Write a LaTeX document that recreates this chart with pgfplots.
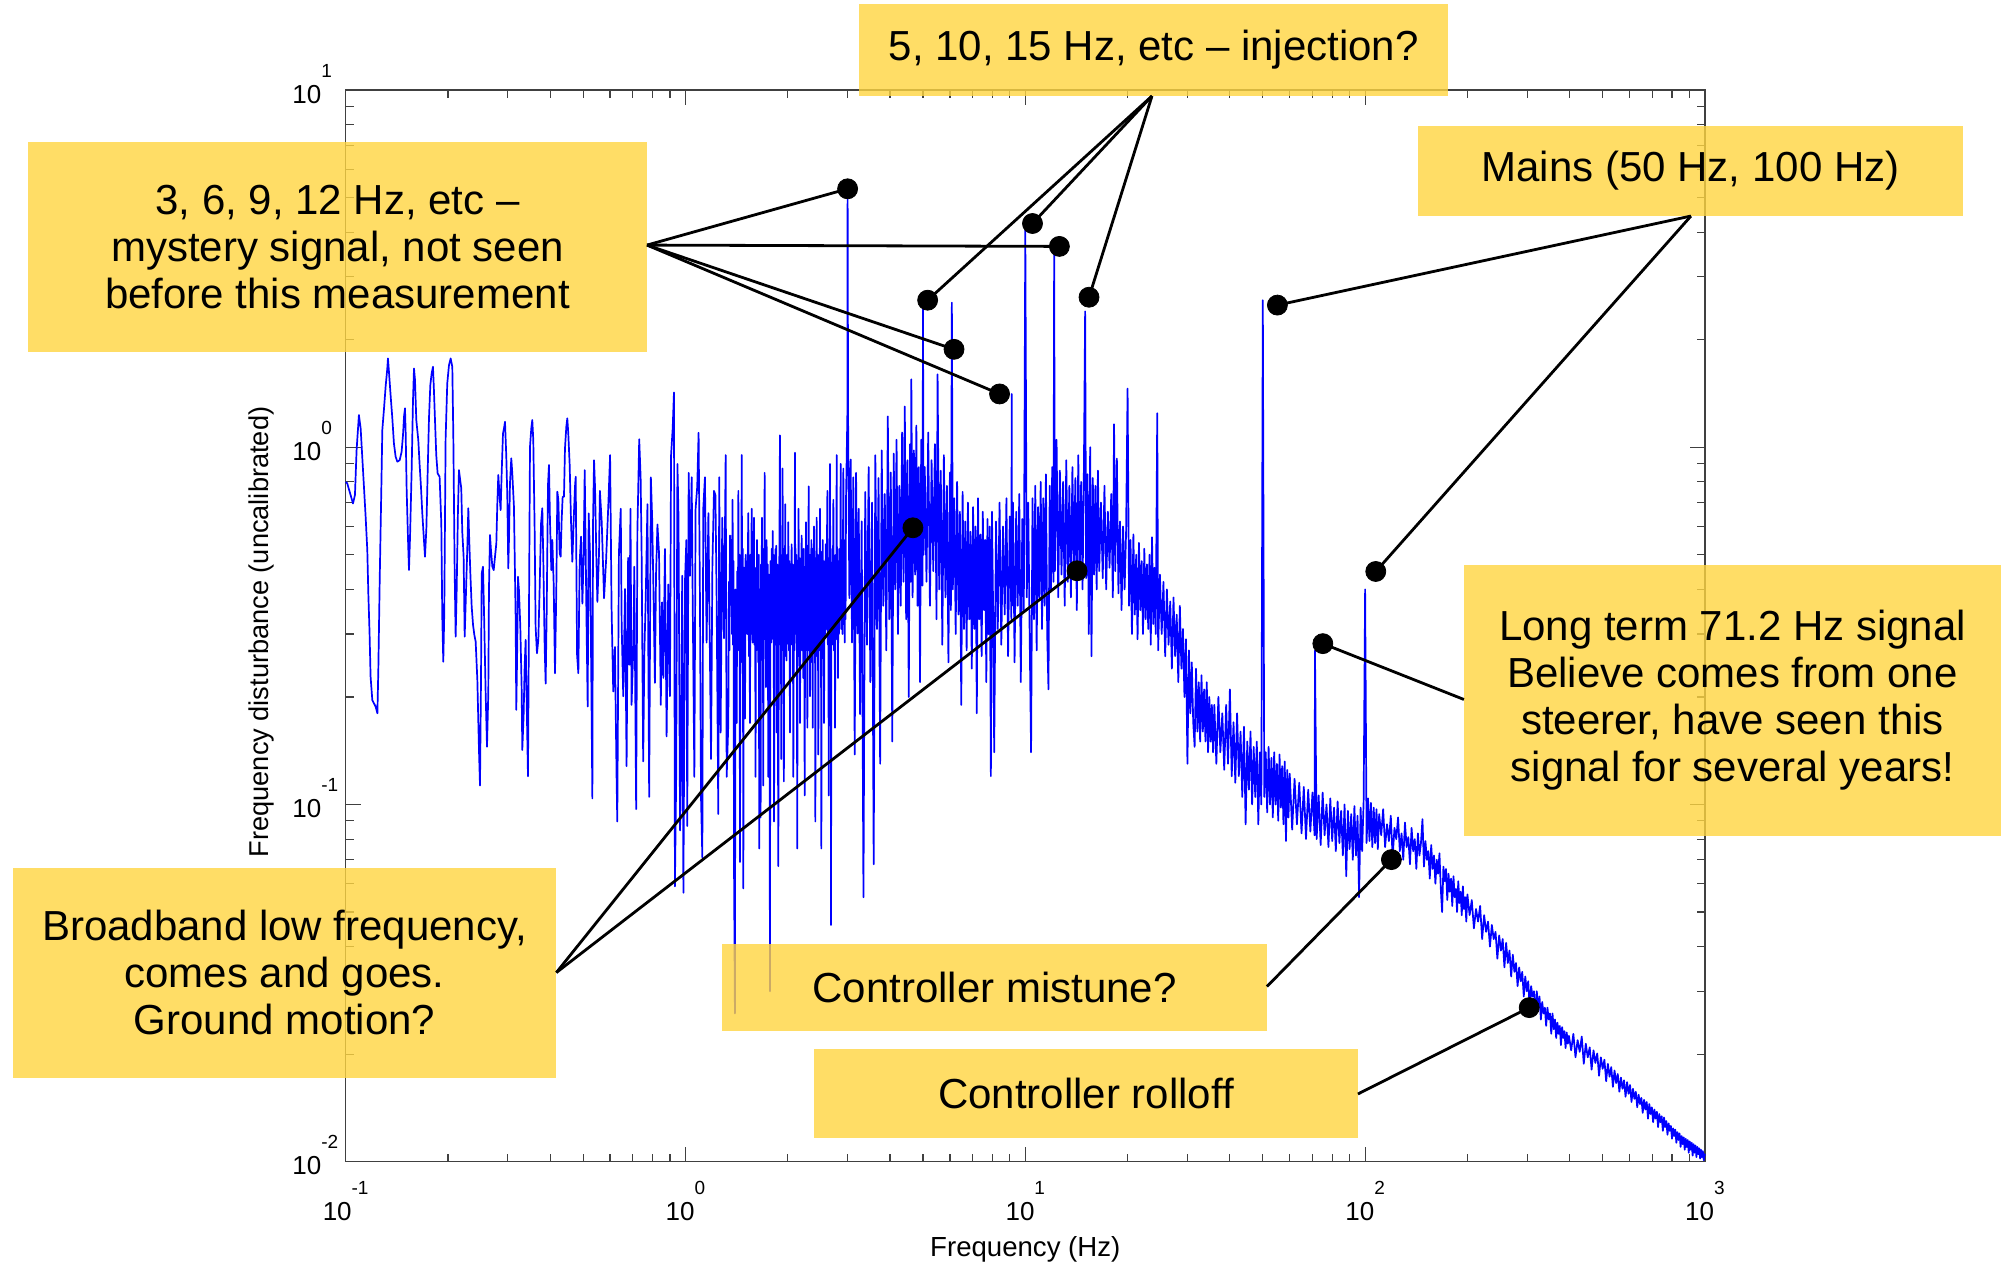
\documentclass[border=0pt]{standalone}
\usepackage{fontspec}
\setmainfont{Liberation Sans}
\usepackage{pgfplots}
\pgfplotsset{compat=1.18}
\definecolor{boxfill}{RGB}{255,213,64}
\definecolor{axgray}{RGB}{64,64,64}
\newcommand{\tklab}[1]{{\fontsize{13}{13}\selectfont 10}\raisebox{13pt}{\fontsize{9.5}{9.5}\selectfont #1}}
\newcommand{\boxfont}{\fontsize{21}{23.5}\selectfont}
\begin{document}
\begin{tikzpicture}
\begin{axis}[
  scale only axis,
  width=679.65pt, height=535.85pt,
  xmode=log, ymode=log,
  xmin=0.1, xmax=1000, ymin=0.01, ymax=10,
  axis line style={axgray, line width=0.65pt},
  every tick/.style={axgray, line width=0.6pt},
  major tick length=7.5pt, minor tick length=4pt,
  tick align=inside,
  xtick={0.1,1,10,100,1000},
  xticklabels={{\tklab{-1}},{\tklab{0}},{\tklab{1}},{\tklab{2}},{\tklab{3}}},
  ytick={0.01,0.1,1,10},
  yticklabels={{\tklab{-2}},{\tklab{-1}},{\tklab{0}},{\tklab{1}}},
  minor xtick={0.2,0.3,0.4,0.5,0.6,0.7,0.8,0.9,2,3,4,5,6,7,8,9,20,30,40,50,60,70,80,90,200,300,400,500,600,700,800,900},
  minor ytick={0.02,0.03,0.04,0.05,0.06,0.07,0.08,0.09,0.2,0.3,0.4,0.5,0.6,0.7,0.8,0.9,2,3,4,5,6,7,8,9},
  xticklabel style={anchor=base, inner sep=0pt, yshift=-29.15pt},
  yticklabel style={anchor=base west, inner sep=0pt, xshift=-26.85pt, yshift=-6.5pt},
  xlabel={Frequency (Hz)},
  ylabel={Frequency disturbance (uncalibrated)},
  xlabel style={at={(rel axis cs:0.5,-0.0889)}, anchor=base, inner sep=0pt, font=\fontsize{13.8}{13.8}\selectfont},
  ylabel style={at={(rel axis cs:-0.05643,0.4943)}, anchor=base, inner sep=0pt, font=\fontsize{13.6}{13.6}\selectfont},
  clip=false,
]
\addplot[blue, line width=0.85pt, line join=round, mark=none] table {
x y
0.1000 0.800
0.1011 0.792
0.1034 0.735
0.1051 0.696
0.1065 0.735
0.1077 0.982
0.1094 1.231
0.1107 1.129
0.1119 0.941
0.1132 0.775
0.1145 0.639
0.1158 0.515
0.1166 0.390
0.1176 0.301
0.1184 0.228
0.1198 0.196
0.1225 0.188
0.1240 0.180
0.1248 0.240
0.1260 0.434
0.1274 0.784
0.1282 1.117
0.1297 1.285
0.1311 1.477
0.1326 1.662
0.1332 1.773
0.1341 1.627
0.1356 1.400
0.1372 1.205
0.1387 1.025
0.1403 0.941
0.1419 0.911
0.1442 0.920
0.1461 0.971
0.1475 1.081
0.1485 1.218
0.1495 1.285
0.1502 1.093
0.1512 0.759
0.1526 0.550
0.1536 0.453
0.1547 0.562
0.1564 0.863
0.1578 1.341
0.1589 1.662
0.1600 1.542
0.1614 1.192
0.1636 1.047
0.1651 0.892
0.1666 0.775
0.1681 0.653
0.1700 0.550
0.1712 0.494
0.1728 0.592
0.1743 0.845
0.1759 1.205
0.1775 1.493
0.1791 1.610
0.1807 1.680
0.1819 1.446
0.1832 1.192
0.1848 0.950
0.1865 0.845
0.1890 0.827
0.1912 0.612
0.1925 0.335
0.1938 0.251
0.1951 0.343
0.1969 1.058
0.1991 1.509
0.2014 1.698
0.2037 1.773
0.2060 1.680
0.2074 1.081
0.2093 0.453
0.2107 0.295
0.2121 0.390
0.2140 0.660
0.2155 0.863
0.2170 0.818
0.2189 0.767
0.2204 0.580
0.2224 0.494
0.2240 0.295
0.2255 0.365
0.2281 0.527
0.2296 0.675
0.2307 0.574
0.2328 0.443
0.2349 0.358
0.2371 0.318
0.2392 0.298
0.2413 0.286
0.2441 0.223
0.2468 0.142
0.2485 0.113
0.2502 0.223
0.2514 0.443
0.2536 0.463
0.2553 0.350
0.2582 0.205
0.2606 0.145
0.2629 0.205
0.2641 0.402
0.2659 0.568
0.2677 0.515
0.2702 0.463
0.2727 0.453
0.2751 0.494
0.2776 0.538
0.2794 0.689
0.2813 0.836
0.2839 0.727
0.2858 0.667
0.2878 0.845
0.2904 1.093
0.2924 1.129
0.2944 1.178
0.2970 0.941
0.2990 0.735
0.3010 0.458
0.3024 0.550
0.3045 0.792
0.3072 0.931
0.3093 0.845
0.3128 0.682
0.3164 0.335
0.3178 0.184
0.3200 0.283
0.3214 0.434
0.3236 0.398
0.3266 0.314
0.3295 0.2135
0.3310 0.142
0.3340 0.178
0.3363 0.243
0.3386 0.289
0.3409 0.196
0.3440 0.120
0.3463 0.335
0.3487 1.003
0.3518 1.129
0.3542 1.192
0.3566 1.047
0.3598 0.599
0.3623 0.314
0.3656 0.265
0.3690 0.289
0.3724 0.407
0.3758 0.612
0.3791 0.675
0.3817 0.483
0.3852 0.276
0.3878 0.218
0.3905 0.346
0.3940 0.784
0.3966 0.892
0.3994 0.619
0.4029 0.453
0.4057 0.550
0.4094 0.415
0.4131 0.233
0.4169 0.407
0.4197 0.751
0.4226 0.712
0.4264 0.505
0.4293 0.494
0.4322 0.626
0.4351 0.727
0.4390 0.727
0.4420 0.992
0.4460 1.141
0.4490 1.205
0.4520 1.093
0.4563 0.892
0.4605 0.619
0.4646 0.478
0.4687 0.619
0.4730 0.775
0.4753 0.827
0.4798 0.262
0.4839 0.233
0.4883 0.478
0.4928 0.562
0.4973 0.365
0.5018 0.505
0.5052 0.863
0.5086 0.505
0.5120 0.301
0.5155 0.188
0.5190 0.653
0.5236 0.505
0.5283 0.228
0.5321 0.104
0.5345 0.612
0.5382 0.920
0.5418 0.775
0.5467 0.494
0.5505 0.369
0.5567 0.505
0.560 0.755
0.567 0.617
0.576 0.378
0.584 0.483
0.593 0.693
0.600 0.951
0.606 0.357
0.613 0.207
0.620 0.276
0.627 0.1195
0.630 0.0896
0.637 0.505
0.645 0.673
0.649 0.318
0.656 0.201
0.664 0.401
0.671 0.128
0.678 0.490
0.683 0.246
0.689 0.673
0.694 0.190
0.703 0.284
0.707 0.463
0.716 0.097
0.722 0.583
0.731 1.053
0.738 0.824
0.743 0.505
0.751 0.132
0.757 0.268
0.764 0.378
0.773 0.693
0.782 0.105
0.791 0.824
0.798 0.635
0.804 0.425
0.813 0.219
0.819 0.437
0.827 0.608
0.836 0.505
0.846 0.190
0.853 0.368
0.861 0.226
0.870 0.519
0.880 0.155
0.890 0.413
0.900 0.201
0.907 0.951
0.917 1.130
0.925 1.424
0.931 0.059
0.939 0.1195
0.947 0.898
0.954 0.635
0.964 0.0846
0.970 0.1195
0.978 0.437
0.986 0.0566
0.997 0.425
1.006 0.550
1.012 0.087
1.022 0.848
1.031 0.437
1.043 0.824
1.050 0.378
1.062 0.1195
1.071 0.673
1.083 0.777
1.093 1.098
1.103 0.378
1.111 0.105
1.121 0.0711
1.128 0.673
1.141 0.824
1.154 0.284
1.168 0.654
1.181 0.246
1.189 0.134
1.200 0.463
1.213 0.755
1.225 0.734
1.235 0.378
1.249 0.094
1.257 0.824
1.269 0.159
1.283 0.635
1.298 0.292
1.313 0.951
1.322 0.1195
1.337 0.169
1.342 0.42
1.347 0.27
1.352 0.566
1.367 0.450
1.370 0.30
1.373 0.52
1.376 0.713
1.380 0.28
1.385 0.48
1.389 0.0711
1.398 0.026
1.404 0.40
1.409 0.26
1.415 0.169
1.420 0.45
1.426 0.29
1.431 0.755
1.436 0.27
1.442 0.50
1.447 0.069
1.453 0.45
1.458 0.25
1.464 0.951
1.469 0.30
1.475 0.52
1.480 0.0582
1.486 0.46
1.491 0.27
1.497 0.174
1.503 0.50
1.508 0.31
1.514 0.425
1.520 0.30
1.525 0.48
1.531 0.654
1.537 0.26
1.542 0.47
1.548 0.169
1.554 0.50
1.560 0.30
1.566 0.673
1.569 0.33
1.572 0.52
1.576 0.284
1.581 0.49
1.585 0.32
1.590 0.635
1.596 0.28
1.602 0.46
1.608 0.1195
1.612 0.45
1.616 0.27
1.620 0.328
1.624 0.55
1.627 0.30
1.631 0.463
1.637 0.25
1.643 0.50
1.649 0.0753
1.654 0.40
1.659 0.26
1.664 0.092
1.669 0.47
1.674 0.28
1.679 0.635
1.684 0.27
1.689 0.49
1.694 0.113
1.699 0.52
1.705 0.30
1.710 0.848
1.715 0.29
1.720 0.50
1.725 0.213
1.728 0.45
1.730 0.28
1.733 0.550
1.740 0.25
1.746 0.47
1.753 0.1195
1.760 0.44
1.766 0.26
1.773 0.030
1.778 0.48
1.784 0.30
1.789 0.284
1.795 0.52
1.800 0.33
1.806 0.583
1.812 0.29
1.817 0.50
1.823 0.0896
1.828 0.48
1.834 0.28
1.839 0.519
1.844 0.30
1.850 0.53
1.855 0.159
1.862 0.47
1.869 0.26
1.876 0.0672
1.883 0.35
1.890 0.52
1.897 1.080
1.903 0.28
1.908 0.50
1.914 0.134
1.920 0.47
1.925 0.27
1.931 0.872
1.937 0.30
1.942 0.52
1.948 0.116
1.954 0.46
1.960 0.28
1.966 0.693
1.972 0.26
1.978 0.49
1.984 0.253
1.992 0.50
1.999 0.31
2.007 0.617
2.015 0.27
2.022 0.48
2.030 0.159
2.038 0.45
2.045 0.29
2.053 0.535
2.061 0.28
2.069 0.47
2.077 0.1195
2.085 0.42
2.092 0.27
2.100 0.965
2.105 0.30
2.109 0.52
2.114 0.337
2.120 0.50
2.127 0.28
2.133 0.0753
2.139 0.44
2.146 0.27
2.152 0.673
2.159 0.26
2.166 0.49
2.173 0.169
2.181 0.48
2.189 0.29
2.197 0.566
2.205 0.27
2.214 0.50
2.222 0.226
2.229 0.52
2.236 0.30
2.243 0.106
2.250 0.44
2.256 0.27
2.263 0.617
2.270 0.30
2.277 0.53
2.284 0.164
2.291 0.47
2.297 0.29
2.304 0.777
2.311 0.27
2.318 0.50
2.325 0.201
2.332 0.50
2.340 0.29
2.347 0.550
2.354 0.25
2.361 0.46
2.368 0.164
2.375 0.52
2.383 0.30
2.390 0.600
2.397 0.27
2.404 0.49
2.411 0.0896
2.418 0.44
2.425 0.26
2.432 0.635
2.441 0.28
2.451 0.50
2.460 0.138
2.469 0.47
2.479 0.27
2.488 0.673
2.496 0.29
2.503 0.51
2.511 0.0753
2.519 0.44
2.526 0.28
2.534 0.550
2.542 0.27
2.549 0.48
2.557 0.169
2.567 0.47
2.576 0.30
2.586 0.535
2.596 0.31
2.606 0.50
2.616 0.755
2.624 0.28
2.632 0.49
2.640 0.106
2.648 0.46
2.655 0.27
2.663 0.898
2.669 0.30
2.675 0.52
2.681 0.046
2.689 0.42
2.697 0.28
2.705 0.476
2.711 0.30
2.718 0.50
2.724 0.713
2.734 0.27
2.745 0.48
2.755 0.164
2.765 0.50
2.776 0.30
2.786 0.951
2.794 0.29
2.803 0.52
2.811 0.226
2.820 0.48
2.828 0.30
2.837 0.378
2.845 0.52
2.854 0.33
2.862 0.898
2.871 0.31
2.879 0.55
2.888 0.425
2.897 0.30
2.906 0.50
2.915 0.872
2.924 0.32
2.932 0.55
2.941 0.284
2.950 0.52
2.959 0.33
2.968 0.713
2.995 1.230
3.000 5.200
3.010 1.197
3.036 0.378
3.063 0.924
3.091 0.284
3.119 0.824
3.148 0.138
3.177 0.848
3.206 0.301
3.235 0.673
3.264 0.179
3.30 0.62
3.34 0.055
3.38 0.75
3.42 0.28
3.46 0.88
3.50 0.22
3.54 0.70
3.58 0.068
3.62 0.95
3.66 0.31
3.70 0.82
3.74 0.13
3.78 0.98
3.82 0.36
3.86 0.74
3.90 0.27
3.94 1.22
3.98 0.33
4.02 0.85
4.06 0.15
4.10 0.96
4.14 0.40
4.18 1.05
4.22 0.30
4.26 0.78
4.30 0.36
4.34 1.10
4.38 0.42
4.42 1.30
4.46 0.33
4.50 0.92
4.54 0.20
4.58 1.02
4.60 0.42
4.62 1.55
4.66 0.38
4.70 0.98
4.74 0.44
4.78 1.15
4.82 0.36
4.86 0.88
4.90 0.22
4.94 1.05
4.98 0.41
5.00 2.45
5.02 0.50
5.06 0.88
5.12 0.42
5.18 1.10
5.24 0.36
5.30 0.92
5.36 0.45
5.42 1.02
5.48 0.33
5.52 1.60
5.58 0.40
5.64 0.86
5.70 0.28
5.76 0.95
5.82 0.38
5.88 0.78
5.94 0.25
6.00 0.85
6.04 0.35
6.08 2.54
6.12 0.40
6.18 0.72
6.24 0.30
6.30 0.80
6.36 0.34
6.42 0.66
6.48 0.19
6.54 0.75
6.60 0.31
6.66 0.62
6.72 0.27
6.78 0.70
6.84 0.33
6.90 0.58
6.96 0.24
7.02 0.68
7.08 0.31
7.14 0.60
7.20 0.18
7.26 0.72
7.32 0.33
7.38 0.57
7.44 0.26
7.50 0.66
7.56 0.35
7.62 0.55
7.68 0.22
7.74 0.63
7.80 0.30
7.86 0.60
7.92 0.12
7.98 0.66
8.05 0.32
8.10 0.14
8.20 0.62
8.30 0.31
8.40 0.70
8.50 0.28
8.60 0.60
8.70 0.34
8.80 0.72
8.90 0.26
9.00 0.64
9.10 0.33
9.12 1.41
9.14 0.36
9.20 0.70
9.30 0.25
9.40 0.66
9.50 0.36
9.60 0.74
9.70 0.22
9.80 0.63
9.90 0.35
10.00 4.05
10.10 0.38
10.20 0.70
10.30 0.30
10.40 0.14
10.50 0.72
10.60 0.33
10.70 0.78
10.80 0.27
10.90 0.68
11.00 0.38
11.10 0.80
11.20 0.31
11.30 0.72
11.40 0.36
11.50 0.84
11.60 0.30
11.70 0.21
11.80 0.78
11.90 0.40
12.00 0.88
12.10 0.42
12.16 3.50
12.22 0.45
12.36 1.05
12.50 0.38
12.64 0.86
12.78 0.44
12.92 0.80
13.06 0.36
13.20 0.92
13.34 0.42
13.48 0.78
13.62 0.38
13.76 0.88
13.90 0.45
14.04 0.82
14.18 0.35
14.32 0.95
14.46 0.44
14.60 0.80
14.74 0.40
14.88 0.90
15.00 2.40
15.10 0.43
15.24 0.84
15.38 0.30
15.52 1.00
15.66 0.26
15.80 0.82
15.94 0.44
16.08 0.78
16.22 0.40
16.36 0.86
16.50 0.45
16.70 0.70
16.90 0.43
17.10 0.78
17.30 0.40
17.50 0.66
17.70 0.46
17.90 0.74
18.10 0.38
18.25 1.16
18.40 0.45
18.60 0.93
18.80 0.39
19.00 0.62
19.20 0.35
19.40 0.60
19.60 0.40
19.80 0.58
20.00 1.46
20.20 0.36
20.40 0.55
20.60 0.30
20.80 0.57
21.00 0.34
21.20 0.50
21.40 0.29
21.60 0.54
21.80 0.35
22.00 0.48
22.20 0.30
22.40 0.52
22.60 0.33
22.80 0.47
23.00 0.31
23.20 0.50
23.40 0.28
23.60 0.56
23.80 0.32
24.00 0.46
24.20 0.30
24.45 1.245
24.60 0.27
24.90 0.44
25.20 0.30
25.50 0.42
25.80 0.26
26.10 0.40
26.40 0.28
26.70 0.37
27.00 0.24
27.30 0.38
27.60 0.26
27.90 0.34
28.20 0.22
28.50 0.36
28.80 0.24
29.10 0.31
29.40 0.20
29.70 0.29
30.00 0.13
30.30 0.27
30.60 0.18
30.90 0.25
31.20 0.17
31.50 0.145
31.80 0.24
32.10 0.16
32.40 0.22
32.70 0.15
33.00 0.23
33.30 0.16
33.60 0.21
33.90 0.15
34.20 0.22
34.50 0.14
34.80 0.20
35.10 0.15
35.40 0.19
35.70 0.14
36.00 0.19
36.50 0.13
37.00 0.20
37.50 0.14
38.00 0.18
38.50 0.125
39.00 0.19
39.50 0.13
40.00 0.21
40.50 0.12
41.00 0.17
41.50 0.115
42.00 0.18
42.50 0.12
43.00 0.16
43.50 0.105
44.00 0.165
44.50 0.088
45.00 0.15
45.50 0.11
46.00 0.16
46.50 0.10
47.00 0.145
47.50 0.105
48.00 0.15
48.50 0.088
49.00 0.14
49.50 0.10
50.00 2.58
50.50 0.105
51.00 0.14
51.50 0.095
52.00 0.145
52.50 0.10
53.00 0.135
53.50 0.092
54.00 0.14
54.50 0.10
55.00 0.13
55.50 0.09
56.00 0.138
56.50 0.098
57.00 0.128
57.50 0.088
58.00 0.132
58.50 0.079
59.00 0.125
59.50 0.092
60 0.122
61 0.085
62 0.118
63 0.088
64 0.115
65 0.083
66 0.112
67 0.080
68 0.110
69 0.084
70 0.108
71 0.082
71.2 0.27
72 0.080
73 0.106
74 0.077
75 0.108
76 0.082
77 0.100
78 0.076
79 0.104
80 0.079
81 0.098
82 0.074
83 0.102
84 0.078
85 0.096
86 0.072
87 0.100
88 0.063
89 0.096
90 0.075
91 0.094
92 0.070
93 0.099
94 0.072
95 0.093
96 0.055
97 0.098
98 0.074
99 0.102
100 0.40
101 0.078
102 0.104
103 0.079
104 0.101
105 0.076
106 0.098
107 0.078
108 0.097
109 0.075
110 0.094
111.5 0.082
113 0.097
114.5 0.076
116 0.088
117.5 0.079
119 0.093
120.5 0.071
122 0.086
123.5 0.080
125 0.092
126.5 0.074
128 0.083
129.5 0.070
131 0.089
132.5 0.076
134 0.081
135.5 0.068
137 0.086
138.5 0.074
140 0.080
141.5 0.066
143 0.083
144.5 0.072
146 0.078
147.5 0.091
149 0.067
150.5 0.079
152 0.070
153.5 0.074
155 0.062
156.5 0.077
158 0.066
159.5 0.072
161 0.060
162.5 0.070
164 0.064
165.5 0.073
167 0.058
168.5 0.050
170 0.067
171.5 0.061
173 0.066
174.5 0.054
176 0.064
177.5 0.057
179 0.062
180.5 0.052
182 0.063
183.5 0.055
185 0.058
186.5 0.050
188 0.061
189.5 0.053
191 0.057
192.5 0.049
194 0.059
195.5 0.051
197 0.055
198.5 0.047
200 0.056
203 0.049
206 0.054
209 0.045
212 0.051
215 0.047
218 0.052
221 0.042
224 0.049
227 0.044
230 0.047
233 0.040
236 0.046
239 0.042
242 0.044
245 0.037
248 0.043
251 0.039
254 0.042
257 0.035
260 0.041
263 0.036
266 0.039
269 0.033
272 0.038
275 0.034
278 0.036
281 0.031
284 0.035
287 0.032
290 0.034
293 0.029
296 0.033
299 0.030
302 0.032
305 0.027
308 0.031
311 0.029
314 0.030
317 0.026
320 0.030
323 0.027
326 0.029
329 0.025
332 0.028
335 0.026
338 0.027
341 0.024
344 0.027
347 0.025
350 0.026
353 0.0228
356 0.026
359 0.0235
362 0.025
365 0.0222
368 0.0245
371 0.0228
374 0.0240
377 0.0212
380 0.0238
383 0.0222
386 0.0232
389 0.0208
392 0.0230
395 0.0214
398 0.0225
404 0.0205
410 0.0228
416 0.0196
422 0.0219
428 0.0203
434 0.0224
440 0.0188
446 0.0214
452 0.0196
458 0.0209
464 0.0181
470 0.0205
476 0.0189
482 0.0201
488 0.0174
494 0.0196
500 0.0182
506 0.0193
512 0.0168
518 0.0188
524 0.0173
530 0.0184
536 0.0162
542 0.0180
548 0.0166
554 0.0176
560 0.0157
566 0.0172
572 0.0160
578 0.0169
584 0.0152
590 0.0167
596 0.0155
602 0.0164
608 0.0147
614 0.0160
620 0.0150
626 0.0157
632 0.0142
638 0.0154
644 0.0145
650 0.0151
656 0.0137
662 0.0149
668 0.0140
674 0.0147
680 0.0132
686 0.0145
692 0.0136
698 0.0142
704 0.0129
710 0.0140
716 0.0132
722 0.0138
728 0.0125
734 0.0136
740 0.0129
746 0.0134
752 0.0122
758 0.0133
764 0.0125
770 0.0130
776 0.0119
782 0.0128
788 0.0122
794 0.0126
800 0.0116
806 0.0124
812 0.0118
818 0.0123
824 0.0113
830 0.0121
836 0.0115
842 0.0120
848 0.0110
854 0.0118
860 0.0112
866 0.0117
872 0.0108
878 0.0116
884 0.0110
890 0.0115
896 0.0106
902 0.0114
908 0.0108
914 0.0113
920 0.0104
926 0.0112
932 0.0106
938 0.0111
944 0.0103
950 0.0110
956 0.0105
962 0.0109
968 0.0102
974 0.0108
980 0.0103
986 0.0107
992 0.0101
998 0.0105
1000 0.0104
};
% annotation boxes
\fill[boxfill, fill opacity=0.8] (rel axis cs:-0.2337,0.7555) rectangle (rel axis cs:0.2217,0.9518);
\node[font=\boxfont, align=center, inner sep=0pt] at (rel axis cs:-0.006,0.8537) {3, 6, 9, 12 Hz, etc –\\mystery signal, not seen\\before this measurement};
\fill[boxfill, fill opacity=0.8] (rel axis cs:0.3776,0.9947) rectangle (rel axis cs:0.8113,1.0804);
\node[font=\boxfont, align=center, inner sep=0pt] at (rel axis cs:0.59445,1.03755) {5, 10, 15 Hz, etc – injection?};
\fill[boxfill, fill opacity=0.8] (rel axis cs:0.7889,0.8824) rectangle (rel axis cs:1.1899,0.9664);
\node[font=\boxfont, align=center, inner sep=0pt] at (rel axis cs:0.9894,0.9244) {Mains (50 Hz, 100 Hz)};
\fill[boxfill, fill opacity=0.8] (rel axis cs:0.8227,0.3039) rectangle (rel axis cs:1.2178,0.5568);
\node[font=\boxfont, align=center, inner sep=0pt] at (rel axis cs:1.02025,0.43035) {Long term 71.2 Hz signal\\Believe comes from one\\steerer, have seen this\\signal for several years!};
\fill[boxfill, fill opacity=0.8] (rel axis cs:-0.2449,0.0781) rectangle (rel axis cs:0.1550,0.2741);
\node[font=\boxfont, align=center, inner sep=0pt] at (rel axis cs:-0.04495,0.1761) {Broadband low frequency,\\comes and goes.\\Ground motion?};
\fill[boxfill, fill opacity=0.8] (rel axis cs:0.2768,0.1220) rectangle (rel axis cs:0.6778,0.2031);
\node[font=\boxfont, align=center, inner sep=0pt] at (rel axis cs:0.4773,0.16255) {Controller mistune?};
\fill[boxfill, fill opacity=0.8] (rel axis cs:0.3445,0.0221) rectangle (rel axis cs:0.7447,0.1052);
\node[font=\boxfont, align=center, inner sep=0pt] at (rel axis cs:0.5446,0.06365) {Controller rolloff};
% leader lines
\begin{scope}[black, line width=1.4pt]
\draw (rel axis cs:0.2217,0.8553) -- (axis cs:3.0,5.29);
\draw (rel axis cs:0.2217,0.8553) -- (axis cs:12.6,3.65);
\draw (rel axis cs:0.2217,0.8553) -- (axis cs:6.17,1.88);
\draw (rel axis cs:0.2217,0.8553) -- (axis cs:8.40,1.41);
\draw (rel axis cs:0.5932,0.9944) -- (axis cs:5.16,2.58);
\draw (rel axis cs:0.5932,0.9944) -- (axis cs:10.5,4.23);
\draw (rel axis cs:0.5932,0.9944) -- (axis cs:15.4,2.63);
\draw (rel axis cs:0.9897,0.8824) -- (axis cs:55.2,2.50);
\draw (rel axis cs:0.9897,0.8824) -- (axis cs:107.5,0.449);
\draw (rel axis cs:0.8227,0.4313) -- (axis cs:75.1,0.282);
\draw (rel axis cs:0.1550,0.1765) -- (axis cs:4.67,0.595);
\draw (rel axis cs:0.1550,0.1765) -- (axis cs:14.2,0.451);
\draw (rel axis cs:0.6778,0.1635) -- (axis cs:119.5,0.0701);
\draw (rel axis cs:0.7447,0.0632) -- (axis cs:304,0.0270);
\end{scope}
\addplot[only marks, mark=*, mark size=5pt, black] coordinates {
(3.0,5.29) (12.6,3.65) (6.17,1.88) (8.40,1.41)
(5.16,2.58) (10.5,4.23) (15.4,2.63)
(55.2,2.50) (107.5,0.449) (75.1,0.282)
(4.67,0.595) (14.2,0.451) (119.5,0.0701) (304,0.0270)
};
\path (rel axis cs:-0.2543,-0.0973) rectangle (rel axis cs:1.2178,1.0840);
\end{axis}
\end{tikzpicture}
\end{document}
